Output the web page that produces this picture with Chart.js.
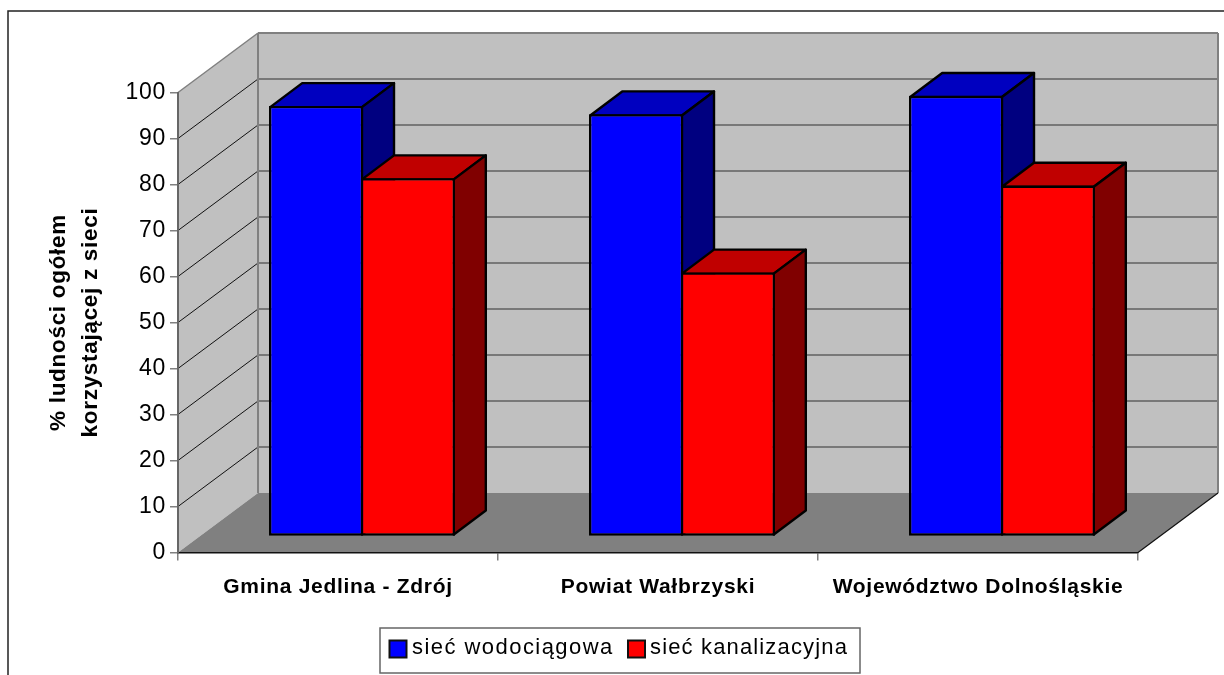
<!DOCTYPE html>
<html lang="pl">
<head>
<meta charset="utf-8">
<title>Ludność korzystająca z sieci</title>
<style>
  html, body { margin: 0; padding: 0; background: #fff; overflow: hidden; }
  canvas { display: block; }
</style>
<script src="https://cdn.jsdelivr.net/npm/chart.js@4/dist/chart.umd.min.js"></script>
</head>
<body>
<canvas id="chart" width="1224" height="675"></canvas>
<script>
  const categories = ['Gmina Jedlina - Zdrój', 'Powiat Wałbrzyski', 'Województwo Dolnośląskie'];
  const wodociagowa = [93.6, 91.8, 95.8];
  const kanalizacyjna = [77.9, 57.4, 76.3];
  const axisTitle = ['% ludności ogółem', 'korzystającej z sieci'];
  const seriesNames = ['sieć wodociągowa', 'sieć kanalizacyjna'];

  const FONT = '"Liberation Sans", Arial, sans-serif';

  // przesunięcie ścian i słupków w perspektywie
  const WALL_DX = 80, WALL_DY = -59.5;
  const BAR_SHIFT_X = 24, BAR_SHIFT_Y = -16;
  const BAR_DX = 32, BAR_DY = -24;
  const EDGE = 2.4;

  function line(ctx, x1, y1, x2, y2, color, width) {
    ctx.strokeStyle = color;
    ctx.lineWidth = width;
    ctx.beginPath();
    ctx.moveTo(x1, y1);
    ctx.lineTo(x2, y2);
    ctx.stroke();
  }

  function poly(ctx, pts, fill) {
    ctx.fillStyle = fill;
    ctx.beginPath();
    pts.forEach((p, i) => i ? ctx.lineTo(p[0], p[1]) : ctx.moveTo(p[0], p[1]));
    ctx.closePath();
    ctx.fill();
  }

  // ściany, podłoga i legenda w ramce, pod wszystkim innym
  const scenePlugin = {
    id: 'scene',
    beforeUpdate(chart) { chart.ctx.letterSpacing = '0.7px'; },
    beforeDraw(chart) {
      const ctx = chart.ctx, y = chart.scales.y;
      const { left, right } = chart.chartArea;
      const top = y.getPixelForValue(100), bottom = y.getPixelForValue(0);
      const bl = left + WALL_DX, br = right + WALL_DX;
      const bt = top + WALL_DY, bb = bottom + WALL_DY;

      ctx.save();
      ctx.fillStyle = '#fff';
      ctx.fillRect(0, 0, chart.width, chart.height);
      ctx.strokeStyle = '#222';
      ctx.lineWidth = 1.5;
      ctx.strokeRect(8, 11, chart.width + 20, chart.height + 20);

      poly(ctx, [[left, bottom], [left, top], [bl, bt], [bl, bb]], '#c0c0c0');
      poly(ctx, [[bl, bb], [bl, bt], [br, bt], [br, bb]], '#c0c0c0');
      poly(ctx, [[left, bottom], [bl, bb], [br, bb], [right, bottom]], '#808080');

      y.ticks.forEach(t => {
        if (t.value === 0 || t.value === 100) return;
        const py = y.getPixelForValue(t.value);
        line(ctx, left, py, bl, py + WALL_DY, '#111', 1);
        line(ctx, bl, py + WALL_DY, br, py + WALL_DY, '#606060', 1.5);
      });
      line(ctx, left, top, bl, bt, '#808080', 1.5);
      line(ctx, bl, bt, br, bt, '#808080', 2);
      line(ctx, bl, bt, bl, bb, '#808080', 2);
      line(ctx, br, bt, br, bb, '#808080', 2);
      line(ctx, right, bottom, br, bb, '#111', 1.2);

      // legenda
      ctx.strokeStyle = '#666';
      ctx.lineWidth = 1.5;
      ctx.strokeRect(380, 628, 480, 45);
      ctx.font = '22px ' + FONT;
      ctx.textBaseline = 'middle';
      ctx.textAlign = 'left';
      const swatchX = [389.5, 628], textX = [412, 650], spacing = ['1.45px', '1.15px'];
      chart.data.datasets.forEach((ds, i) => {
        ctx.fillStyle = ds.backgroundColor;
        ctx.fillRect(swatchX[i], 640.5, 17, 17);
        ctx.strokeStyle = '#111';
        ctx.lineWidth = 2;
        ctx.strokeRect(swatchX[i], 640.5, 17, 17);
        ctx.fillStyle = '#000';
        ctx.letterSpacing = spacing[i];
        ctx.fillText(ds.label, textX[i], 648);
      });
      ctx.restore();
    },
    // słupki stoją w głębi podłogi: najpierw górne i boczne ściany, potem przody z biblioteki
    beforeDatasetsDraw(chart) {
      const ctx = chart.ctx, half = EDGE / 2;
      ctx.save();
      ctx.translate(BAR_SHIFT_X, BAR_SHIFT_Y);
      chart.data.datasets.forEach((ds, i) => {
        chart.getDatasetMeta(i).data.forEach(bar => {
          const props = bar.getProps(['x', 'y', 'base', 'width']);
          // krawędzie prowadzimy środkiem obrysu przedniej ściany; styk słupków leży na ich granicy
          const l = props.x - props.width / 2 + (ds.borderWidth.left === EDGE ? half : 0);
          const r = props.x + props.width / 2 - (ds.borderWidth.right === EDGE ? half : 0);
          const y = props.y + half, base = props.base - half;
          const top = [[l, y], [l + BAR_DX, y + BAR_DY], [r + BAR_DX, y + BAR_DY], [r, y]];
          const side = [[r, y], [r + BAR_DX, y + BAR_DY], [r + BAR_DX, base + BAR_DY], [r, base]];
          [[top, ds.topColor], [side, ds.sideColor]].forEach(([pts, fill]) => {
            poly(ctx, pts, fill);
            ctx.strokeStyle = '#000';
            ctx.lineWidth = EDGE;
            ctx.lineJoin = 'round';
            ctx.stroke();
          });
        });
      });
    },
    afterDatasetsDraw(chart) {
      chart.ctx.restore();
    }
  };

  new Chart(document.getElementById('chart'), {
    type: 'bar',
    plugins: [scenePlugin],
    data: {
      labels: categories,
      datasets: [
        {
          label: seriesNames[0],
          data: wodociagowa,
          backgroundColor: '#0000ff',
          topColor: '#0000c0',
          sideColor: '#000080',
          borderWidth: { top: EDGE, right: EDGE / 2, bottom: EDGE, left: EDGE }
        },
        {
          label: seriesNames[1],
          data: kanalizacyjna,
          backgroundColor: '#ff0000',
          topColor: '#c00000',
          sideColor: '#800000',
          borderWidth: { top: EDGE, right: EDGE, bottom: EDGE, left: EDGE / 2 }
        }
      ]
    },
    options: {
      responsive: false,
      animation: false,
      layout: { padding: { left: 0, right: 86, top: 92.5, bottom: 0 } },
      datasets: {
        bar: {
          categoryPercentage: 0.58125,
          barPercentage: 1,
          borderColor: '#000',
          borderSkipped: false
        }
      },
      plugins: { legend: { display: false }, title: { display: false }, tooltip: { enabled: false } },
      scales: {
        x: {
          afterFit(scale) { scale.height = 122.5; },
          grid: { offset: true, drawOnChartArea: false, drawTicks: true, tickLength: 8, color: '#808080', lineWidth: 1.5 },
          border: { display: true, color: '#111', width: 1.5 },
          ticks: { color: '#000', padding: 14, maxRotation: 0, font: { family: FONT, size: 21, weight: 'bold' } }
        },
        y: {
          min: 0,
          max: 100,
          afterFit(scale) { scale.width = 178; },
          grid: { drawOnChartArea: false, drawTicks: true, tickLength: 8, color: '#808080', lineWidth: 1.5 },
          border: { display: true, color: '#666', width: 2 },
          ticks: { stepSize: 10, color: '#000', padding: 4, font: { family: FONT, size: 23 } },
          title: {
            display: true,
            text: axisTitle,
            color: '#000',
            padding: { top: 43, bottom: 0 },
            font: { family: FONT, size: 22.5, weight: 'bold', lineHeight: 1.42 }
          }
        }
      }
    }
  });
</script>
</body>
</html>
